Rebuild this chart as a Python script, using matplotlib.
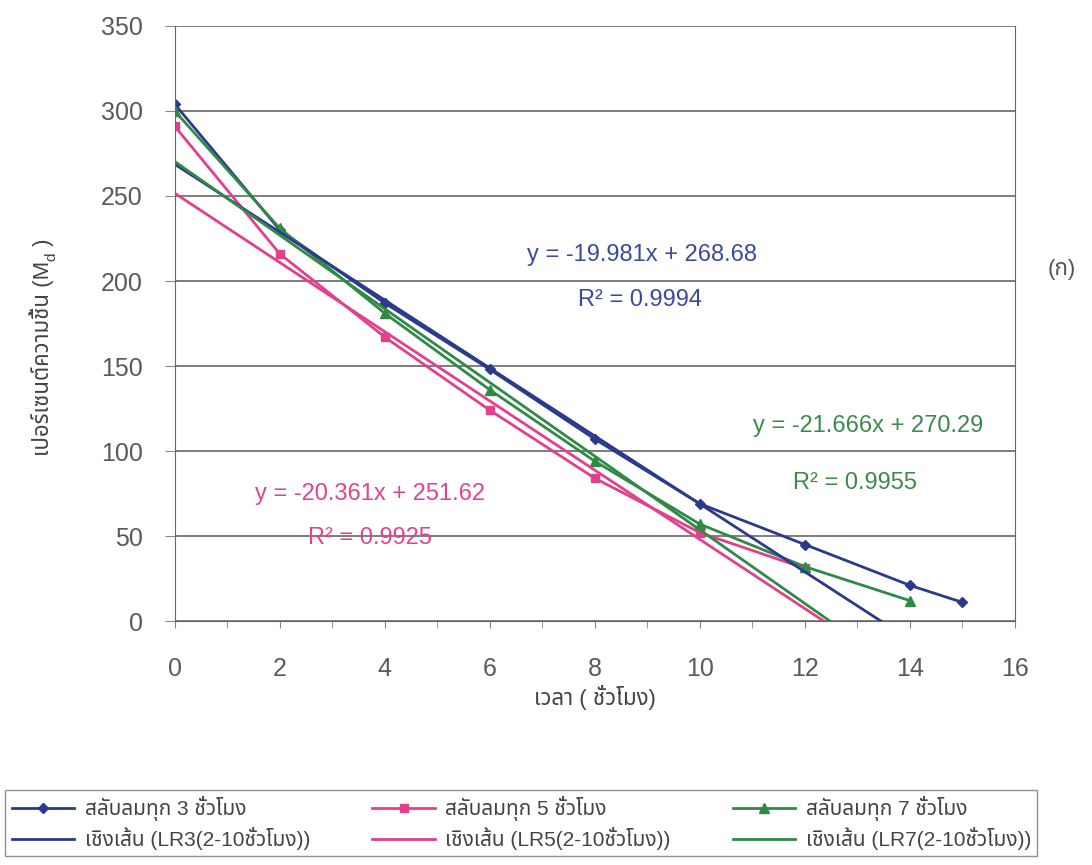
import matplotlib
matplotlib.use("Agg")
import numpy as np
import matplotlib.pyplot as plt

plt.rcParams['font.family'] = ['Liberation Sans', 'Noto Sans Thai', 'IBM Plex Sans Thai',
                               'IBM Plex Sans Thai Looped', 'DejaVu Sans']

# data
x3 = [0, 2, 4, 6, 8, 10, 12, 14, 15]
y3 = [304, 230, 187, 148, 107, 69, 45, 21, 11]
x5 = [0, 2, 4, 6, 8, 10, 12]
y5 = [291, 216, 167, 124, 84, 52, 31]
x7 = [0, 2, 4, 6, 8, 10, 12, 14]
y7 = [300, 231, 181, 136, 94, 57, 32, 12]

# linear fits: slope, intercept, R2
fit3 = (-19.981, 268.68, 0.9994)
fit5 = (-20.361, 251.62, 0.9925)
fit7 = (-21.666, 270.29, 0.9955)

labels = ['สลับลมทุก 3 ชั่วโมง', 'เชิงเส้น (LR3(2-10ชั่วโมง))',
          'สลับลมทุก 5 ชั่วโมง', 'เชิงเส้น (LR5(2-10ชั่วโมง))',
          'สลับลมทุก 7 ชั่วโมง', 'เชิงเส้น (LR7(2-10ชั่วโมง))']

c_blue = '#2b3a8c'
c_pink = '#e2408c'
c_green = '#2f8a45'

fig = plt.figure(figsize=(10.92, 8.65), dpi=100)
ax = fig.add_axes([0.160, 0.282, 0.7695, 0.688])

l3, = ax.plot(x3, y3, color=c_blue, marker='D', ms=5.5, lw=2)
l5, = ax.plot(x5, y5, color=c_pink, marker='s', ms=5.5, lw=2)
l7, = ax.plot(x7, y7, color=c_green, marker='^', ms=6.5, lw=2)

xf = np.array([0, 15])
t3, = ax.plot(xf, fit3[0] * xf + fit3[1], color=c_blue, lw=2)
t5, = ax.plot(xf, fit5[0] * xf + fit5[1], color=c_pink, lw=2)
t7, = ax.plot(xf, fit7[0] * xf + fit7[1], color=c_green, lw=2)

ax.set_xlim(0, 16)
ax.set_ylim(0, 350)
ax.set_xticks(np.arange(0, 17, 2))
ax.set_xticks(np.arange(0, 17, 1), minor=True)
ax.set_yticks(np.arange(0, 351, 50))
ax.yaxis.grid(True, color='#5a5a5a', lw=1.1)
ax.set_axisbelow(True)
ax.spines['top'].set_visible(False)
for s in ['left', 'bottom', 'right']:
    ax.spines[s].set_color('#666666')
ax.tick_params(axis='x', which='both', direction='out', length=5, color='#888888',
               pad=21, labelsize=18, labelcolor='#5a5a5a')
ax.tick_params(axis='y', direction='out', length=7, color='#888888',
               pad=16, labelsize=18, labelcolor='#5a5a5a')

ax.set_xlabel('เวลา ( ชั่วโมง)', fontsize=16, color='#444444', labelpad=3)

# y label: Thai text + subscript d, built from pieces so the Thai font fallback works
ty = fig.text(0.0385, 0.473, 'เปอร์เซนต์ความชื้น (M', rotation=90, ha='center', va='bottom',
              fontsize=16, color='#444444')
td = fig.add_artist(plt.Annotation('d', xy=(1, 1), xycoords=ty, xytext=(3, 0),
                                   textcoords='offset points', rotation=90,
                                   ha='right', va='bottom', fontsize=11, color='#444444'))
fig.add_artist(plt.Annotation(' )', xy=(1, 1), xycoords=(ty, td), xytext=(0, 0),
                              textcoords='offset points', rotation=90,
                              ha='right', va='bottom', fontsize=16, color='#444444'))

ax.text(8.9, 215, 'y = -19.981x + 268.68', color='#3a4a9c', fontsize=17, ha='center', va='center')
ax.text(8.85, 189, 'R² = 0.9994', color='#3a4a9c', fontsize=17, ha='center', va='center')
ax.text(13.2, 115, 'y = -21.666x + 270.29', color='#3c8a4a', fontsize=17, ha='center', va='center')
ax.text(12.95, 81, 'R² = 0.9955', color='#3c8a4a', fontsize=17, ha='center', va='center')
ax.text(3.72, 75, 'y = -20.361x + 251.62', color='#e0448f', fontsize=17, ha='center', va='center')
ax.text(3.72, 49, 'R² = 0.9925', color='#e0448f', fontsize=17, ha='center', va='center')
fig.text(0.972, 0.688, '(ก)', fontsize=16, color='#555555', ha='center', va='center')

handles = [l3, t3, l5, t5, l7, t7]
leg = fig.legend(handles, labels, ncol=3, loc='lower left',
                 bbox_to_anchor=(0.005, 0.01, 0.945, 0.075), mode='expand',
                 fontsize=15, frameon=True, fancybox=False, edgecolor='#777777',
                 handlelength=3, handletextpad=0.5, borderaxespad=0, borderpad=0.3,
                 columnspacing=1.0, labelspacing=0.3)
leg.get_frame().set_linewidth(1.0)
for t in leg.get_texts():
    t.set_color('#444444')

fig.savefig('out.png', dpi=100)
